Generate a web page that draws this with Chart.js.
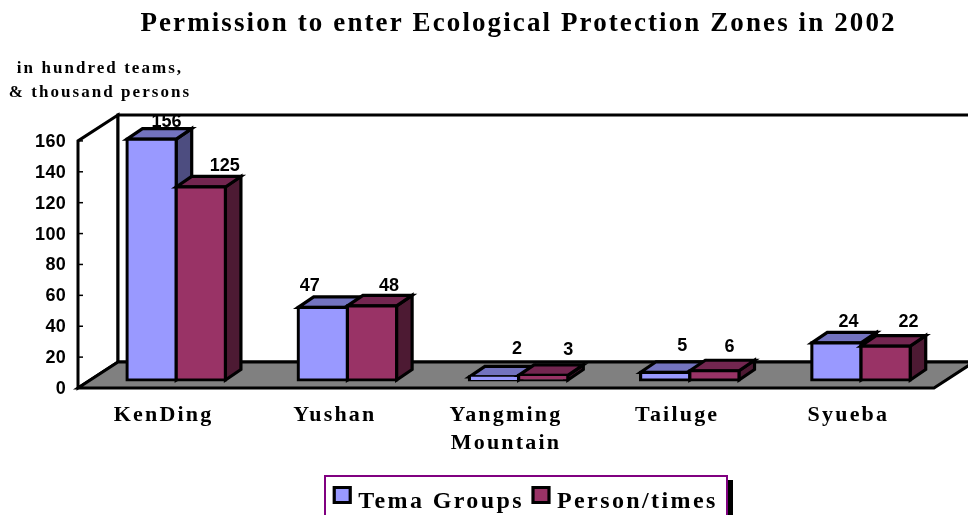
<!DOCTYPE html>
<html><head><meta charset="utf-8">
<style>html,body{margin:0;padding:0;background:#fff;overflow:hidden}canvas{display:block}</style>
<script src="https://cdn.jsdelivr.net/npm/chart.js@4"></script></head>
<body><canvas id="c" width="968" height="515"></canvas>
<script>
const categories = ['KenDing','Yushan',['Yangming','Mountain'],'Tailuge','Syueba'];
const temaGroups = [156,47,2,5,24];
const personTimes = [125,48,3,6,22];
const yTicks = [0,20,40,60,80,100,120,140,160];
const titleText = 'Permission to enter Ecological Protection Zones in 2002';
const unitText = ['in hundred teams,','& thousand persons'];
// value-label nudges relative to the top centre of each bar's front face
const nudgeA = [[15,-12],[-13,-16],[23,-23],[17,-21],[12,-16]];
const nudgeB = [[24,-16],[17,-15],[25,-20],[15,-19],[23,-19]];

const WALL = {dx:40, dy:-26};
const BAR_SHIFT = {dx:12.6, dy:-8};
const BAR_DEPTH = {dx:15.5, dy:-10.5};
const BAR_LINE = 3.2;
const faces = {
  0:{top:'#7373BF',side:'#4D4D80'},
  1:{top:'#732650',side:'#4D1A33'}
};
const SERIF = '"Liberation Serif","Times New Roman",serif';
const SANS = '"Liberation Sans",Arial,sans-serif';
const LEGEND_DX = 61;
const LEGEND_SPACING = '2.4px';

function poly(ctx,pts,fill,lw){
  ctx.beginPath();
  pts.forEach((p,i)=>i?ctx.lineTo(p[0],p[1]):ctx.moveTo(p[0],p[1]));
  ctx.closePath();
  if(fill){ctx.fillStyle=fill;ctx.fill();}
  ctx.lineWidth=lw;ctx.strokeStyle='#000';ctx.lineJoin='miter';ctx.stroke();
}
function wrap(box,name,spacing,dx,dy){
  const orig=box[name];
  box[name]=function(...a){
    const ctx=box.ctx;ctx.save();ctx.letterSpacing=spacing;
    ctx.translate(dx||0,dy||0);
    const r=orig.apply(box,a);
    ctx.restore();return r;
  };
}
const threeD = {
  id:'threeD',
  beforeLayout(chart){
    if(chart.$wrapped)return;chart.$wrapped=true;
    const sub=chart.boxes.find(b=>b!==chart.titleBlock&&b.options&&Array.isArray(b.options.text));
    wrap(chart.titleBlock,'draw','2.1px',51.5,2);
    wrap(sub,'draw','2.05px',-367,1);
    const lg=chart.legend;
    const f=lg.fit;
    lg.fit=function(){
      const ctx=lg.ctx;ctx.save();ctx.letterSpacing=LEGEND_SPACING;f.call(lg);ctx.restore();
      lg.height=40;
    };
    const d=lg.draw;
    lg.draw=function(){
      const ctx=lg.ctx;ctx.save();ctx.letterSpacing=LEGEND_SPACING;ctx.translate(LEGEND_DX,3);
      const ft=ctx.fillText;
      ctx.fillText=function(t,x,y){ft.call(ctx,t,x-4,y+7);};
      d.call(lg);
      delete ctx.fillText;
      ctx.restore();
      ctx.save();
      ctx.fillStyle='#000';ctx.fillRect(727,480,6,35);
      ctx.strokeStyle='#800080';ctx.lineWidth=2;
      ctx.beginPath();ctx.moveTo(325,516);ctx.lineTo(325,476);ctx.lineTo(727,476);ctx.lineTo(727,516);ctx.stroke();
      ctx.restore();
    };
    wrap(chart.scales.x,'drawLabels','2.2px',0,0);
    wrap(chart.scales.y,'drawLabels','0.3px',0,1);
  },
  beforeDatasetsDraw(chart){
    const {ctx,chartArea:a,scales:{y}}=chart;
    ctx.save();
    poly(ctx,[[a.left,a.bottom],[a.left,a.top],[a.left+WALL.dx,a.top+WALL.dy],[a.left+WALL.dx,a.bottom+WALL.dy]],'#fff',3);
    poly(ctx,[[a.left+WALL.dx,a.top+WALL.dy],[a.right+WALL.dx,a.top+WALL.dy],[a.right+WALL.dx,a.bottom+WALL.dy],[a.left+WALL.dx,a.bottom+WALL.dy]],'#fff',3);
    poly(ctx,[[a.left,a.bottom],[a.right,a.bottom],[a.right+WALL.dx,a.bottom+WALL.dy],[a.left+WALL.dx,a.bottom+WALL.dy]],'#808080',3);
    ctx.lineWidth=1.5;ctx.strokeStyle='#000';
    y.ticks.forEach((t,i)=>{const py=y.getPixelForTick(i);ctx.beginPath();ctx.moveTo(a.left,py);ctx.lineTo(a.left+5,py);ctx.stroke();});
    // value labels sit behind the bars
    ctx.fillStyle='#000';ctx.font='bold 18px '+SANS;ctx.textAlign='center';ctx.textBaseline='alphabetic';
    chart.data.datasets.forEach((ds,di)=>{
      const nudge=di?nudgeB:nudgeA;
      chart.getDatasetMeta(di).data.forEach((el,i)=>{
        ctx.fillText(ds.data[i],el.x+BAR_SHIFT.dx+nudge[i][0],el.y+BAR_SHIFT.dy+nudge[i][1]);
      });
    });
    // bars: first series first, so the second overlaps it
    ctx.translate(BAR_SHIFT.dx,BAR_SHIFT.dy);
    chart.data.datasets.forEach((ds,di)=>{
      const meta=chart.getDatasetMeta(di),c=faces[di],dx=BAR_DEPTH.dx,dy=BAR_DEPTH.dy;
      meta.data.forEach(el=>{
        const l=el.x-el.width/2,r=el.x+el.width/2,t=el.y,bo=el.base;
        poly(ctx,[[r,t],[r+dx,t+dy],[r+dx,bo+dy],[r,bo]],c.side,BAR_LINE);
        poly(ctx,[[l,t],[l+dx,t+dy],[r+dx,t+dy],[r,t]],c.top,BAR_LINE);
      });
      meta.controller.draw();
    });
    ctx.restore();
    return false;
  }
};

new Chart(document.getElementById('c'),{
  type:'bar',
  data:{labels:categories,datasets:[
    {label:'Tema Groups',data:temaGroups,backgroundColor:'#9999FF',borderColor:'#000',borderWidth:BAR_LINE,borderSkipped:false,inflateAmount:BAR_LINE/2},
    {label:'Person/times',data:personTimes,backgroundColor:'#993366',borderColor:'#000',borderWidth:BAR_LINE,borderSkipped:false,inflateAmount:BAR_LINE/2}
  ]},
  options:{
    responsive:false,animation:false,
    devicePixelRatio:1,
    layout:{padding:{left:0,right:34,top:0,bottom:0}},
    datasets:{bar:{categoryPercentage:0.575,barPercentage:1}},
    scales:{
      x:{grid:{display:false},border:{display:false},
        ticks:{autoSkip:false,maxRotation:0,minRotation:0,padding:5,color:'#000',
          font:{family:SERIF,weight:'bold',size:22,lineHeight:1.27}},
        afterFit(s){s.height=87;}},
      y:{min:0,max:160,grid:{display:false},border:{display:false},
        afterBuildTicks(s){s.ticks=yTicks.map(v=>({value:v}));},
        ticks:{padding:4,color:'#000',font:{family:SANS,weight:'bold',size:18}},
        afterFit(s){s.width=78;}}
    },
    plugins:{
      tooltip:{enabled:false},
      title:{display:true,text:titleText,color:'#000',padding:{top:7,bottom:0},
        font:{family:SERIF,weight:'bold',size:27,lineHeight:1.11}},
      subtitle:{display:true,text:unitText,color:'#000',padding:{top:19,bottom:37},
        font:{family:SERIF,weight:'bold',size:17,lineHeight:1.41}},
      legend:{position:'bottom',
        labels:{boxWidth:16,boxHeight:15,padding:5,color:'#000',
          font:{family:SERIF,weight:'bold',size:24}}}
    }
  },
  plugins:[threeD]
});
</script></body></html>
